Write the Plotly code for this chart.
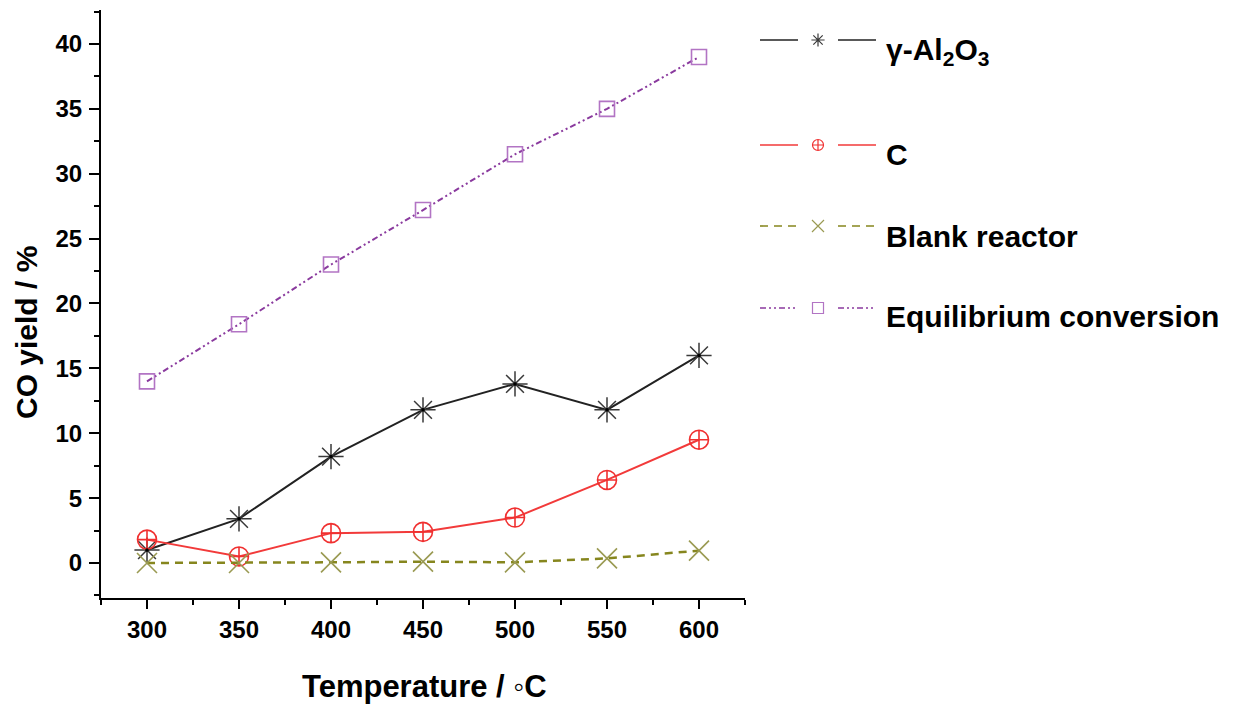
import plotly.graph_objects as go

# ---------------- data ----------------
temperature = [300, 350, 400, 450, 500, 550, 600]
al2o3 = [1.0, 3.4, 8.2, 11.8, 13.8, 11.8, 16.0]
carbon = [1.8, 0.5, 2.3, 2.4, 3.5, 6.4, 9.5]
blank = [0.0, 0.0, 0.05, 0.1, 0.05, 0.35, 0.95]
equilibrium = [14.0, 18.4, 23.0, 27.2, 31.5, 35.0, 39.0]

series_names = ["γ-Al<sub>2</sub>O<sub>3</sub>", "C", "Blank reactor", "Equilibrium conversion"]
x_tick_vals = [300, 350, 400, 450, 500, 550, 600]
y_tick_vals = [0, 5, 10, 15, 20, 25, 30, 35, 40]
x_title = "Temperature / ◦C"
y_title = "CO yield / %"

# ---------------- layout helpers (page pixels -> figure) ----------------
OFF = 8  # default body margin of the html page
W, H = 1233 - OFF, 704 - OFF
PLOT_L, PLOT_R, PLOT_T, PLOT_B = 101, 745, 10, 598  # page pixels
ML = PLOT_L - OFF
MT = PLOT_T - OFF
MB = H - (PLOT_B - OFF)
MR = 10
PW, PH = W - ML - MR, H - MT - MB


def px_x(px):
    return (px - PLOT_L) / PW


def px_y(py):
    return (PLOT_B - py) / PH


FONT = "Liberation Sans, Arial, sans-serif"

styles = [
    dict(color="#222222", dash="solid", width=2,
         msym="asterisk-open", msize=21, mcolor="#3a3a3a", mline=1.5, lsize=11),
    dict(color="#f23a3a", dash="solid", width=2,
         msym="circle-cross-open", msize=19, mcolor="#f03030", mline=1.6, lsize=11),
    dict(color="#86861e", dash="8px,6px", width=2.5,
         msym="x-thin-open", msize=20, mcolor="#9a9a52", mline=1.6, lsize=12),
    dict(color="#8a3a9e", dash="6px,3px,2px,3px,2px,3px", width=2,
         msym="square-open", msize=15, mcolor="#b274c4", mline=1.6, lsize=11),
]
data_series = [al2o3, carbon, blank, equilibrium]

fig = go.Figure()

for vals, st, name in zip(data_series, styles, series_names):
    fig.add_trace(go.Scatter(
        x=temperature, y=vals, mode="lines+markers", name=name,
        line=dict(color=st["color"], dash=st["dash"], width=st["width"]),
        marker=dict(symbol=st["msym"], size=st["msize"], color=st["mcolor"],
                    line=dict(color=st["mcolor"], width=st["mline"])),
        showlegend=False, cliponaxis=False,
    ))

# centre dots of the asterisks
fig.add_trace(go.Scatter(
    x=temperature, y=al2o3, mode="markers",
    marker=dict(symbol="circle", size=3.5, color="#000000"),
    showlegend=False, hoverinfo="skip", cliponaxis=False,
))

# ---------------- custom legend (pixel-coded overlay axis, page pixels) ----------------
legend_line_y = [40, 145, 226, 308]
legend_text_y = [51, 154, 236, 316]
seg1 = (760, 798)
seg2 = (838, 876)
mark_x = 818
text_x = 884

for st, ly in zip(styles, legend_line_y):
    for a, b in (seg1, seg2):
        fig.add_trace(go.Scatter(
            x=[a, b], y=[ly, ly], mode="lines", xaxis="x2", yaxis="y2",
            line=dict(color=st["color"], dash=st["dash"], width=1.6),
            showlegend=False, hoverinfo="skip",
        ))
    fig.add_trace(go.Scatter(
        x=[mark_x], y=[ly], mode="markers", xaxis="x2", yaxis="y2",
        marker=dict(symbol=st["msym"], size=st["lsize"], color=st["mcolor"],
                    line=dict(color=st["mcolor"], width=1.2)),
        showlegend=False, hoverinfo="skip",
    ))

annotations = []
for name, ty in zip(series_names, legend_text_y):
    annotations.append(dict(
        x=px_x(text_x), y=px_y(ty), xref="paper", yref="paper", text="<b>%s</b>" % name,
        showarrow=False, xanchor="left", yanchor="middle",
        font=dict(family=FONT, size=30, color="#000000"),
    ))

# axis titles
annotations.append(dict(
    x=px_x(424), y=px_y(686), xref="paper", yref="paper", text="<b>%s</b>" % x_title,
    showarrow=False, xanchor="center", yanchor="middle",
    font=dict(family=FONT, size=31, color="#000000"),
))
annotations.append(dict(
    x=px_x(26), y=px_y(333), xref="paper", yref="paper", text="<b>%s</b>" % y_title,
    showarrow=False, xanchor="center", yanchor="middle", textangle=-90,
    font=dict(family=FONT, size=30, color="#000000"),
))

tickfont = dict(family=FONT, size=24, color="#000000", weight="bold")

fig.update_layout(
    width=W, height=H,
    margin=dict(l=ML, r=MR, t=MT, b=MB),
    paper_bgcolor="white", plot_bgcolor="rgba(0,0,0,0)",
    xaxis=dict(
        domain=[0, px_x(PLOT_R)], range=[275, 625],
        tickmode="array", tickvals=x_tick_vals,
        ticks="outside", ticklen=9, tickwidth=2, tickcolor="#000",
        minor=dict(tickmode="linear", tick0=275, dtick=50, ticks="outside",
                   ticklen=5, tickwidth=2, tickcolor="#000"),
        showline=True, linecolor="#000", linewidth=2,
        showgrid=False, zeroline=False, tickfont=tickfont,
        anchor="y",
    ),
    yaxis=dict(
        domain=[0, 1], range=[-2.7, 42.62],
        tickmode="array", tickvals=y_tick_vals,
        ticks="outside", ticklen=10, tickwidth=2, tickcolor="#000",
        minor=dict(tickmode="linear", tick0=2.5, dtick=5, ticks="outside",
                   ticklen=5, tickwidth=2, tickcolor="#000"),
        showline=True, linecolor="#000", linewidth=2,
        showgrid=False, zeroline=False, tickfont=tickfont,
        ticklabelstandoff=2,
        anchor="x",
    ),
    xaxis2=dict(domain=[0, 1], range=[PLOT_L, PLOT_L + PW], visible=False,
                anchor="y2"),
    yaxis2=dict(domain=[0, 1], range=[PLOT_B, PLOT_B - PH], visible=False,
                anchor="x2"),
    annotations=annotations,
    showlegend=False,
)

fig.write_html("out.html")
